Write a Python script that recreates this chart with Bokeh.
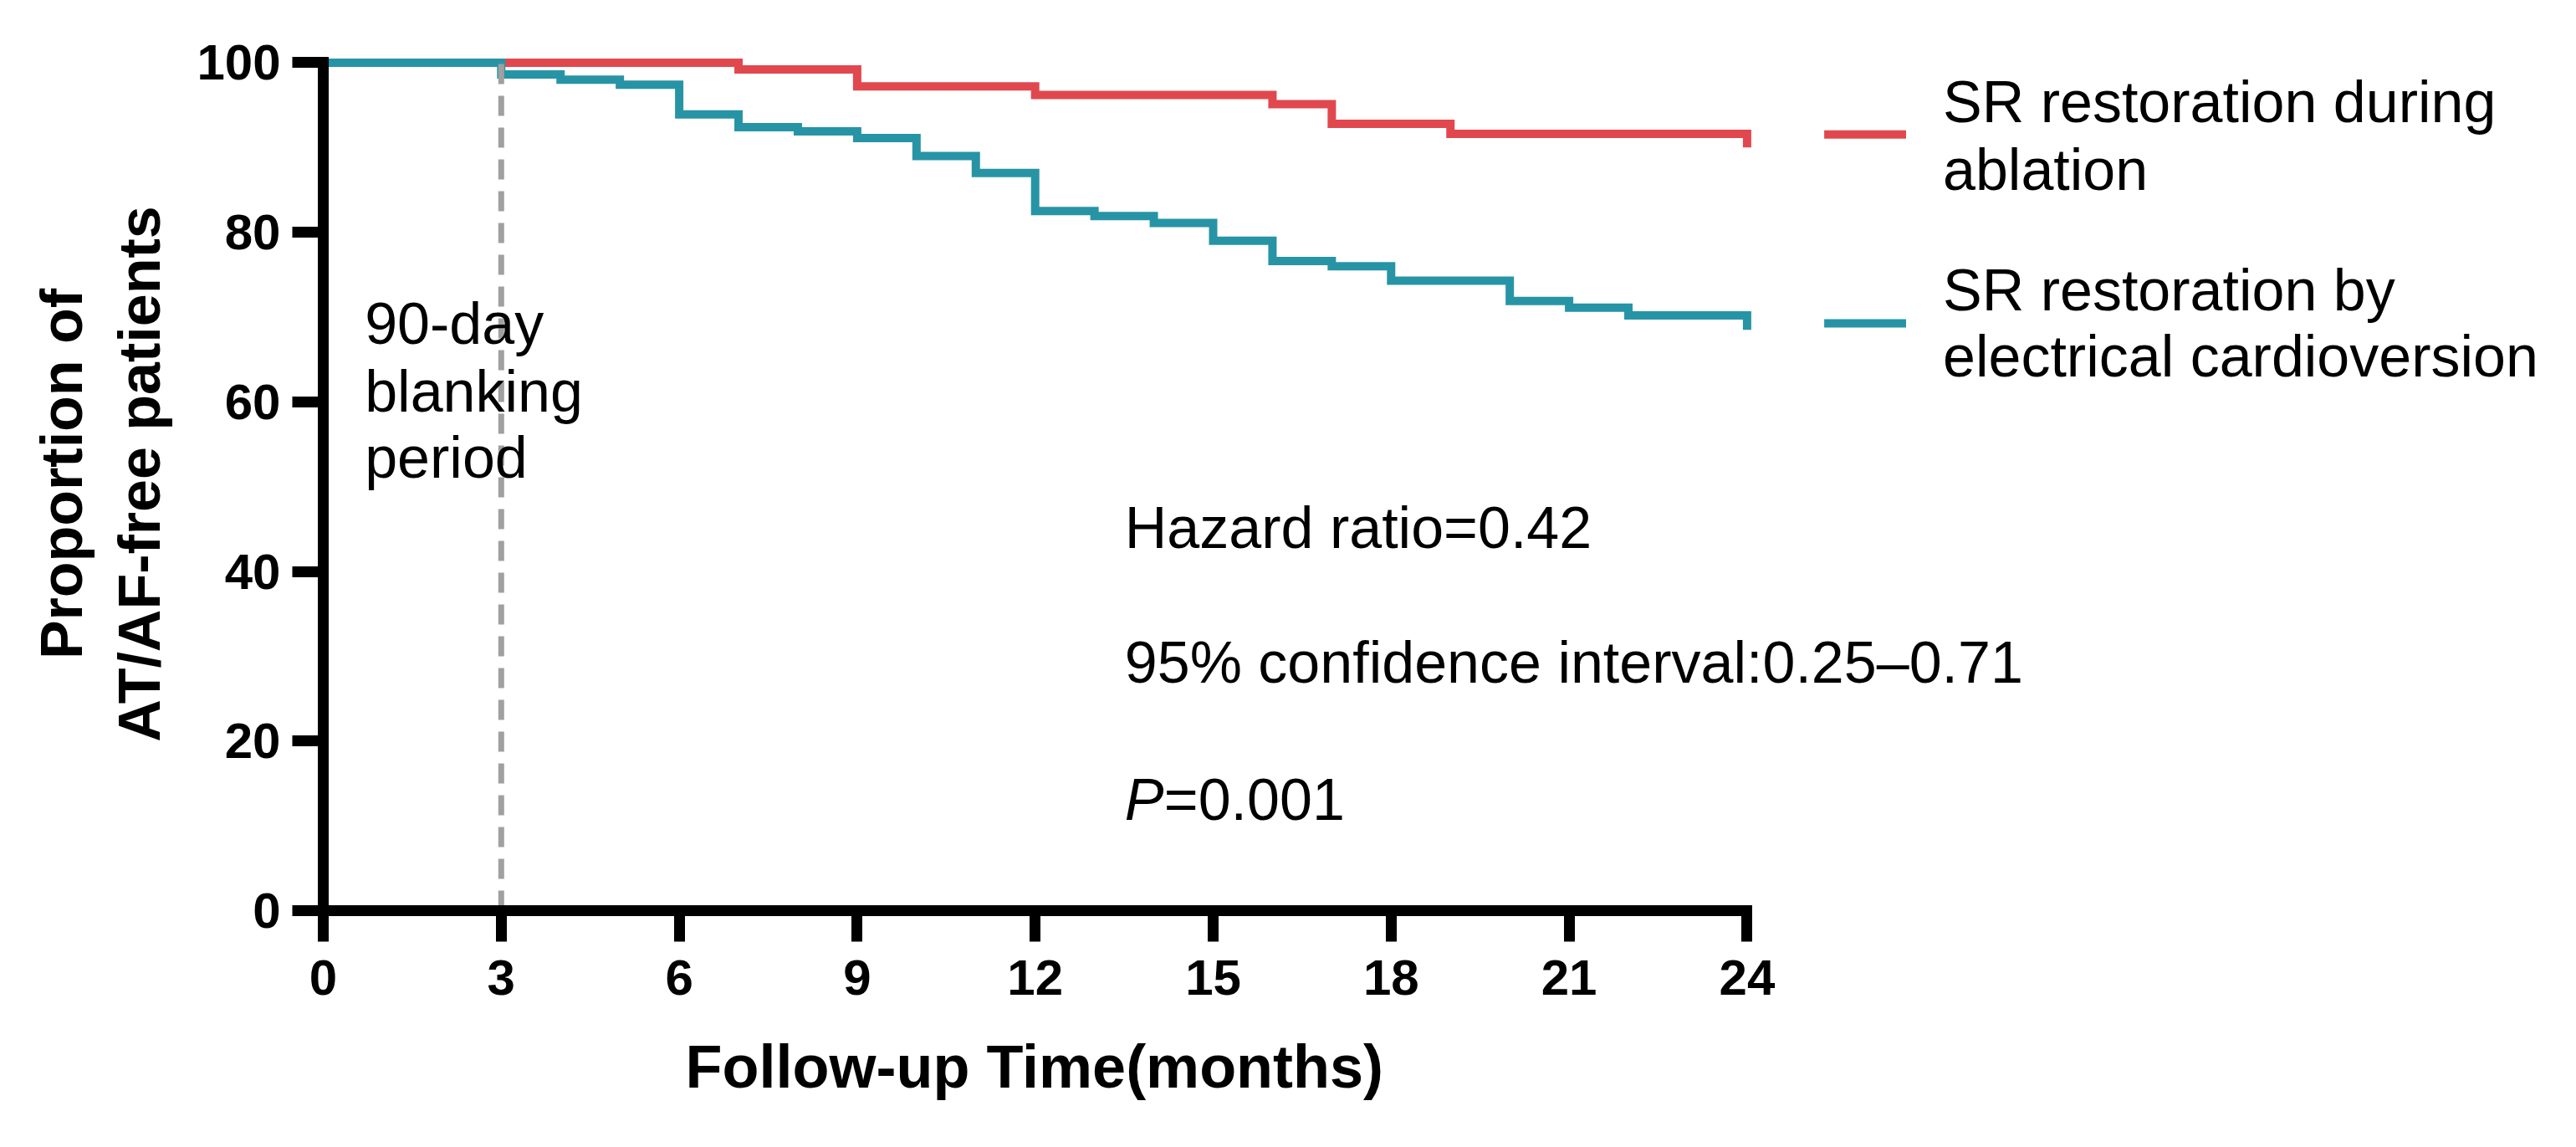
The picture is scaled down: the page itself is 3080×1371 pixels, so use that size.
from bokeh.plotting import figure
from bokeh.models import Range1d, FixedTicker, Label, Title
from bokeh.embed import file_html
from bokeh.resources import INLINE

# Kaplan-Meier steps (months, % free)
abl_t = [0, 7, 9, 12, 16, 17, 19, 24]
abl_s = [100, 99.2, 97.2, 96.2, 95.1, 92.8, 91.6, 90.0]

ecv_t = [0, 3, 4, 5, 6, 7, 8, 9, 10, 11, 12, 13, 14, 15, 16, 17, 18, 20, 21, 22, 24]
ecv_s = [100, 98.6, 98.0, 97.4, 93.9, 92.4, 91.9, 91.1, 89.0, 87.0, 82.5,
         81.9, 81.1, 79.0, 76.6, 76.0, 74.3, 71.9, 71.1, 70.2, 68.5]

x_ticks = [0, 3, 6, 9, 12, 15, 18, 21, 24]
y_ticks = [0, 20, 40, 60, 80, 100]
blanking_month = 3

legend_names = [["SR restoration during", "ablation"],
                ["SR restoration by", "electrical cardioversion"]]
stats_lines = ["Hazard ratio=0.42", "95% confidence interval:0.25\u20130.71"]
p_value = "=0.001"

RED = "#E1484E"
TEAL = "#2794A6"
FONT = "Liberation Sans"

p = figure(width=3064, height=1355, output_backend="svg", toolbar_location=None,
           x_range=Range1d(0, 37.5), y_range=Range1d(0, 103),
           min_border_left=386, min_border_right=18,
           min_border_top=44, min_border_bottom=266)
p.outline_line_color = None
p.xgrid.visible = False
p.ygrid.visible = False
p.background_fill_color = "white"
p.border_fill_color = "white"

for ax, bounds, ticks in ((p.xaxis, (0, 24), x_ticks), (p.yaxis, (0, 100), y_ticks)):
    ax.bounds = bounds
    ax.ticker = FixedTicker(ticks=ticks)
    ax.axis_line_width = 13
    ax.axis_line_cap = "square"
    ax.axis_line_color = "black"
    ax.major_tick_line_width = 13
    ax.major_tick_line_color = "black"
    ax.major_tick_out = 37
    ax.major_tick_in = 0
    ax.minor_tick_line_color = None
    ax.major_label_text_font = FONT
    ax.major_label_text_font_style = "bold"
    ax.major_label_text_font_size = "60px"
    ax.major_label_text_color = "black"
p.xaxis.major_label_standoff = 22
p.yaxis.major_label_standoff = 14
p.yaxis.axis_label = "Proportion of\nAT/AF-free patients"
p.yaxis.axis_label_standoff = 26
p.yaxis.axis_label_text_font = FONT
p.yaxis.axis_label_text_font_style = "bold"
p.yaxis.axis_label_text_font_size = "70px"
p.yaxis.axis_label_text_color = "black"

# x title centred under the 0-24 span, not under the whole frame
p.add_layout(Title(text="Follow-up Time(months)", align="left", offset=433,
                   standoff=82, text_font=FONT, text_font_size="72px",
                   text_font_style="bold", text_color="black"), "below")

# curves
p.step(abl_t, abl_s, mode="after", line_color=RED, line_width=10, line_join="miter")
p.step(ecv_t, ecv_s, mode="after", line_color=TEAL, line_width=10, line_join="miter")

# blanking period marker
p.segment(x0=[blanking_month], y0=[0], x1=[blanking_month], y1=[101.2],
          line_color="#A0A0A0", line_width=7, line_dash="24 14")

def lab(x, y, text, style="normal", **kw):
    p.add_layout(Label(x=x, y=y, text=text, text_font=FONT, text_font_size="70px",
                       text_font_style=style, text_color="black",
                       text_baseline="alphabetic", y_offset=20, **kw))

for yy, t in zip([67.19, 59.21, 51.43], ["90-day", "blanking", "period"]):
    lab(0.70, yy, t)

lab(13.51, 43.15, stats_lines[0])
lab(13.51, 27.29, stats_lines[1])
lab(13.51, 11.13, "P", style="italic")
lab(13.51, 11.13, p_value, x_offset=47)

# legend
p.segment(x0=[25.30, 25.30], y0=[91.53, 69.26], x1=[26.68, 26.68], y1=[91.53, 69.26],
          line_color=[RED, TEAL], line_width=10)
for yy, t in zip([93.40, 85.42], legend_names[0]):
    lab(27.30, yy, t)
for yy, t in zip([71.23, 63.35], legend_names[1]):
    lab(27.30, yy, t)

open("out.html", "w").write(file_html(p, INLINE))
